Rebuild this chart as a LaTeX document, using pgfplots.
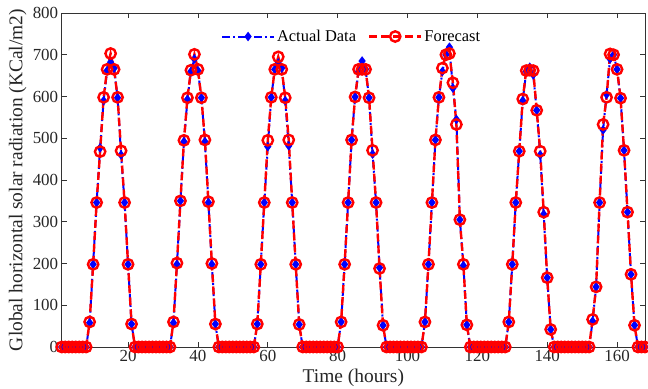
\documentclass[border=0pt]{standalone}
\usepackage{fontspec}
\setmainfont{Liberation Serif}
\usepackage{pgfplots}
\usepackage{pgfplotstable}
\pgfplotsset{compat=1.18}
\usetikzlibrary{calc}

\pgfplotstableread{
h a f
1 0 0
2 0 0
3 0 0
4 0 0
5 0 0
6 0 0
7 0 0
8 0 0
9 58 60
10 198 198
11 346 346
12 477 468
13 590 598
14 662 665
15 682 703
16 668 665
17 597 598
18 460 470
19 346 346
20 198 198
21 55 55
22 0 0
23 0 0
24 0 0
25 0 0
26 0 0
27 0 0
28 0 0
29 0 0
30 0 0
31 0 0
32 0 0
33 58 60
34 198 201
35 350 350
36 492 495
37 593 597
38 660 663
39 690 701
40 662 665
41 597 597
42 492 496
43 346 348
44 198 200
45 55 55
46 0 0
47 0 0
48 0 0
49 0 0
50 0 0
51 0 0
52 0 0
53 0 0
54 0 0
55 0 0
56 0 0
57 55 55
58 198 198
59 346 346
60 480 495
61 598 598
62 665 665
63 680 695
64 668 665
65 590 597
66 482 496
67 346 346
68 198 198
69 54 54
70 0 0
71 0 0
72 0 0
73 0 0
74 0 0
75 0 0
76 0 0
77 0 0
78 0 0
79 0 0
80 0 0
81 60 60
82 198 198
83 346 346
84 496 496
85 599 599
86 660 665
87 685 665
88 665 665
89 597 597
90 462 471
91 346 346
92 190 188
93 52 52
94 0 0
95 0 0
96 0 0
97 0 0
98 0 0
99 0 0
100 0 0
101 0 0
102 0 0
103 0 0
104 0 0
105 60 60
106 198 198
107 346 346
108 496 496
109 598 598
110 660 668
111 700 700
112 718 703
113 620 633
114 545 533
115 305 305
116 195 198
117 53 53
118 0 0
119 0 0
120 0 0
121 0 0
122 0 0
123 0 0
124 0 0
125 0 0
126 0 0
127 0 0
128 0 0
129 60 60
130 198 198
131 346 346
132 469 469
133 590 594
134 660 662
135 670 663
136 652 662
137 567 567
138 460 469
139 318 323
140 166 166
141 42 42
142 0 0
143 0 0
144 0 0
145 0 0
146 0 0
147 0 0
148 0 0
149 0 0
150 0 0
151 0 0
152 0 0
153 62 66
154 144 144
155 346 346
156 520 533
157 605 598
158 690 702
159 700 700
160 665 665
161 596 596
162 471 471
163 323 323
164 174 174
165 52 52
166 0 0
167 0 0
168 0 0
}\datatable

\begin{document}
\begin{tikzpicture}
\begin{axis}[
  width=583.3bp, height=334bp, scale only axis,
  xmin=1, xmax=168, ymin=0, ymax=800,
  xtick={20,40,...,160}, ytick={0,100,...,800},
  tick align=inside, major tick length=5bp,
  axis line style={draw=black!80, line width=0.6bp},
  tick style={draw=black!80, line width=0.6bp},
  clip=false,
  /pgf/number format/assume math mode=true,
  ticklabel style={font=\fontsize{17}{18}\selectfont, text=black!85},
  xlabel={Time (hours)},
  ylabel={Global horizontal solar radiation (KCal/m2)},
  label style={font=\fontsize{19.5}{22}\selectfont, text=black!85},
  xlabel style={at={(axis description cs:0.5,-0.093)}, anchor=center},
  ylabel style={at={(axis description cs:-0.0754,0.5)}, anchor=center},
  legend style={at={(axis description cs:0.497,0.9296)}, anchor=center,
    draw=none, fill=none, font=\fontsize{16.5}{18}\selectfont,
    /tikz/every even column/.append style={column sep=10bp}},
  legend columns=2,
  legend image code/.code={\draw[mark repeat=2,mark phase=2,#1] plot coordinates {(0bp,0bp) (26bp,0bp) (52bp,0bp)};},
]
\addplot[color=blue, line width=2bp, dash pattern=on 8bp off 3bp on 2bp off 3bp,
  mark=diamond*, mark size=3.2bp, mark options={solid, fill=blue}]
  table[x=h, y=a] {\datatable};
\addlegendentry{Actual Data}
\addplot[color=red, line width=2.4bp, dash pattern=on 8bp off 4bp,
  mark=o, mark size=5.2bp, mark options={solid}]
  table[x=h, y=f] {\datatable};
\addlegendentry{Forecast}
\end{axis}
\pgfresetboundingbox
\path[use as bounding box] ($(current axis.south west)+(-61.7bp,-42bp)$) rectangle ($(current axis.north east)+(3bp,13bp)$);
\end{tikzpicture}
\end{document}
